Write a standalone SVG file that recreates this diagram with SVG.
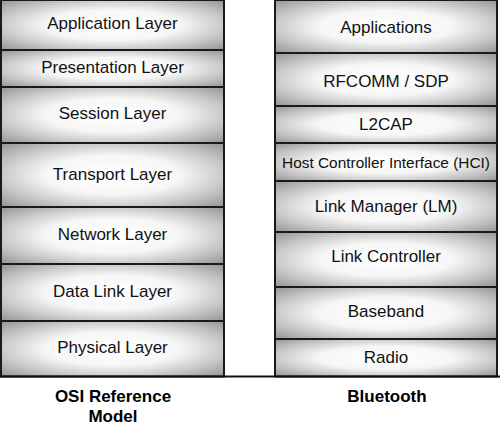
<svg xmlns="http://www.w3.org/2000/svg" width="500" height="427" viewBox="0 0 500 427">
<defs>
<radialGradient id="g" cx="50%" cy="50%" r="72%">
<stop offset="0" stop-color="#ffffff"/>
<stop offset="0.42" stop-color="#f6f6f6"/>
<stop offset="0.7" stop-color="#c8c8c8"/>
<stop offset="1" stop-color="#909090"/>
</radialGradient>
</defs>
<style>
.b{fill:url(#g);stroke:#1a1a1a;stroke-width:2}
.t{font-family:"Liberation Sans",Arial,sans-serif;font-size:17px;fill:#111;text-anchor:middle}
.s{font-size:15.4px}
.h{font-family:"Liberation Sans",Arial,sans-serif;font-size:17px;font-weight:bold;fill:#000;text-anchor:middle}
</style>
<rect width="500" height="427" fill="#fff"/>
<g id="osi">
<g id="application"><rect class="b" x="1" y="0" width="223" height="50"/><text class="t" x="112.5" y="29">Application Layer</text></g>
<g id="presentation"><rect class="b" x="1" y="50" width="223" height="37"/><text class="t" x="112.5" y="72.5">Presentation Layer</text></g>
<g id="session"><rect class="b" x="1" y="87" width="223" height="56"/><text class="t" x="112.5" y="119">Session Layer</text></g>
<g id="transport"><rect class="b" x="1" y="143" width="223" height="64"/><text class="t" x="112.5" y="180">Transport Layer</text></g>
<g id="network"><rect class="b" x="1" y="207" width="223" height="57"/><text class="t" x="112.5" y="240">Network Layer</text></g>
<g id="datalink"><rect class="b" x="1" y="264" width="223" height="57"/><text class="t" x="112.5" y="296.5">Data Link Layer</text></g>
<g id="physical"><rect class="b" x="1" y="321" width="223" height="55.5"/><text class="t" x="112.5" y="352.5">Physical Layer</text></g>
</g>
<g id="bluetooth">
<g id="applications"><rect class="b" x="275" y="0" width="222" height="53"/><text class="t" x="386" y="32.5">Applications</text></g>
<g id="rfcomm"><rect class="b" x="275" y="53" width="222" height="53"/><text class="t" x="386" y="87">RFCOMM / SDP</text></g>
<g id="l2cap"><rect class="b" x="275" y="106" width="222" height="37"/><text class="t" x="386" y="129.5">L2CAP</text></g>
<g id="hci"><rect class="b" x="275" y="143" width="222" height="38"/><text class="t s" x="386" y="167.5">Host Controller Interface (HCI)</text></g>
<g id="lm"><rect class="b" x="275" y="181" width="222" height="51"/><text class="t" x="386" y="211.5">Link Manager (LM)</text></g>
<g id="lc"><rect class="b" x="275" y="232" width="222" height="55"/><text class="t" x="386" y="261.5">Link Controller</text></g>
<g id="baseband"><rect class="b" x="275" y="287" width="222" height="52"/><text class="t" x="386" y="316.5">Baseband</text></g>
<g id="radio"><rect class="b" x="275" y="339" width="222" height="37.5"/><text class="t" x="386" y="363">Radio</text></g>
</g>
<line x1="0" y1="376.5" x2="500" y2="376.5" stroke="#111" stroke-width="2"/>
<g id="labels">
<text class="h" x="113" y="402">OSI Reference</text>
<text class="h" x="113" y="422">Model</text>
<text class="h" x="387" y="401.5">Bluetooth</text>
</g>
</svg>
